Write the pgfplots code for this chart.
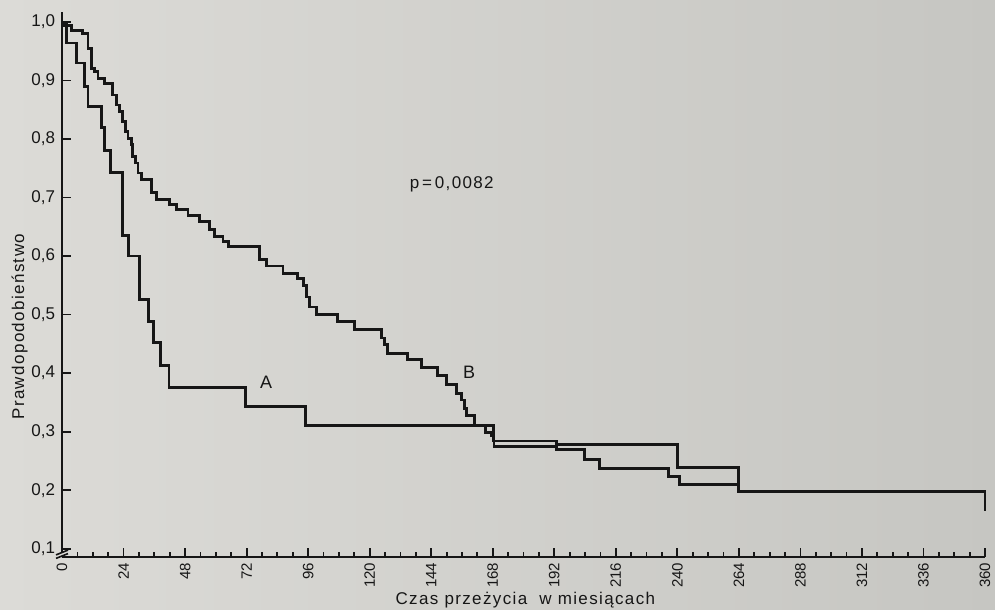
\documentclass[border=0pt]{standalone}
\usepackage{pgfplots}
\pgfplotsset{compat=1.18}
\usepackage{fontspec}
\setmainfont{Liberation Sans}
\newfontfamily\lab[LetterSpace=8]{Liberation Sans}
\usetikzlibrary{backgrounds}
\definecolor{paperL}{RGB}{220,219,215}
\definecolor{paperR}{RGB}{198,198,194}
\definecolor{ink}{RGB}{22,22,22}

\pgfplotstableread{
m p
0 1.000
1.8 0.964
5.5 0.930
8.8 0.890
10.1 0.855
15.3 0.820
16.6 0.780
18.9 0.743
23.7 0.635
26.0 0.600
30.2 0.526
33.8 0.488
35.8 0.452
38.4 0.413
41.7 0.376
71.5 0.343
95.0 0.310
168.3 0.284
192.8 0.278
240.0 0.239
264.0 0.198
360.0 0.198
360.0 0.165
}\curveA

\pgfplotstableread{
m p
0 1.000
0.5 0.994
3.6 0.986
8.1 0.980
10.1 0.955
11.6 0.921
12.7 0.915
14.0 0.904
16.6 0.895
19.8 0.875
21.2 0.858
22.4 0.847
23.7 0.830
24.7 0.813
25.7 0.801
27.0 0.790
27.6 0.770
28.6 0.759
29.6 0.742
30.9 0.731
34.8 0.708
36.8 0.697
41.9 0.688
44.6 0.679
49.1 0.669
53.7 0.659
57.6 0.645
59.5 0.634
62.8 0.625
65.0 0.616
77.1 0.594
79.7 0.583
86.2 0.570
91.8 0.561
94.3 0.550
95.2 0.530
96.5 0.513
99.1 0.500
107.6 0.488
114.1 0.475
124.5 0.460
125.8 0.449
127.1 0.434
134.9 0.423
140.1 0.409
146.6 0.396
149.9 0.380
153.8 0.365
155.7 0.354
157.0 0.339
157.7 0.328
160.9 0.311
165.3 0.298
167.4 0.293
168.5 0.275
192.8 0.269
203.8 0.253
209.6 0.237
236.4 0.224
240.9 0.210
264.0 0.198
360.0 0.198
}\curveB

\begin{document}
\begin{tikzpicture}[show background rectangle, inner frame sep=0pt,
  background rectangle/.style={left color=paperL, right color=paperR, draw=none}]
\begin{axis}[
  scale only axis, width=461.25pt, height=272.6pt,
  xmin=0, xmax=360, ymin=0.085, ymax=1.017,
  clip=false,
  axis lines*=left,
  axis line style={ink, line width=1pt},
  xtick={0,24,...,360},
  minor x tick num=3,
  ytick={0.1,0.2,0.3,0.4,0.5,0.6,0.7,0.8,0.9,1.0},
  tick align=inside,
  major tick length=4.5pt, minor tick length=2.8pt,
  every tick/.style={ink, line width=0.9pt},
  /pgf/number format/assume math mode=true,
  xticklabel style={rotate=90, anchor=east, font=\fontsize{7.5}{7.5}\selectfont, text=ink, inner sep=2.5pt},
  yticklabel style={font=\fontsize{8.5}{8.5}\selectfont, text=ink,
     /pgf/number format/.cd, fixed, fixed zerofill, precision=1, use comma},
  xlabel={\lab Czas przeżycia\ \ w miesiącach},
  xlabel style={at={(axis description cs:0.502,0)}, anchor=center, yshift=-21.5pt,
     font=\fontsize{8.5}{8.5}\selectfont, text=ink},
  ylabel={\lab Prawdopodobieństwo},
  ylabel style={at={(axis description cs:-0.046,0.423)}, anchor=center,
     font=\fontsize{8.5}{8.5}\selectfont, text=ink},
]
\addplot[const plot, ink, line width=1.4pt] table[x=m, y=p] {\curveA};
\addplot[const plot, ink, line width=1.4pt] table[x=m, y=p] {\curveB};

\node[text=ink, font=\lab\fontsize{8.5}{8.5}\selectfont] at (axis cs:152,0.722) {p\,=\,0,0082};
\node[text=ink, font=\fontsize{9}{9}\selectfont] at (axis cs:79.6,0.385) {A};
\node[text=ink, font=\fontsize{9}{9}\selectfont] at (axis cs:158.8,0.402) {B};

% axis break on the vertical axis
\fill[paperL] ([xshift=-3pt]axis cs:0,0.0875) rectangle ([xshift=3pt]axis cs:0,0.0935);
\draw[ink, line width=0.8pt] ([xshift=-3pt,yshift=-1.2pt]axis cs:0,0.0875) -- ([xshift=3pt,yshift=1.2pt]axis cs:0,0.0875);
\draw[ink, line width=0.8pt] ([xshift=-3pt,yshift=-1.2pt]axis cs:0,0.0935) -- ([xshift=3pt,yshift=1.2pt]axis cs:0,0.0935);

\coordinate (ll) at (rel axis cs:0,0);
\coordinate (ur) at (rel axis cs:1,1);
\end{axis}
\pgfresetboundingbox
\path ([shift={(-31pt,-26pt)}]ll) rectangle ([shift={(5pt,6pt)}]ur);
\end{tikzpicture}
\end{document}
